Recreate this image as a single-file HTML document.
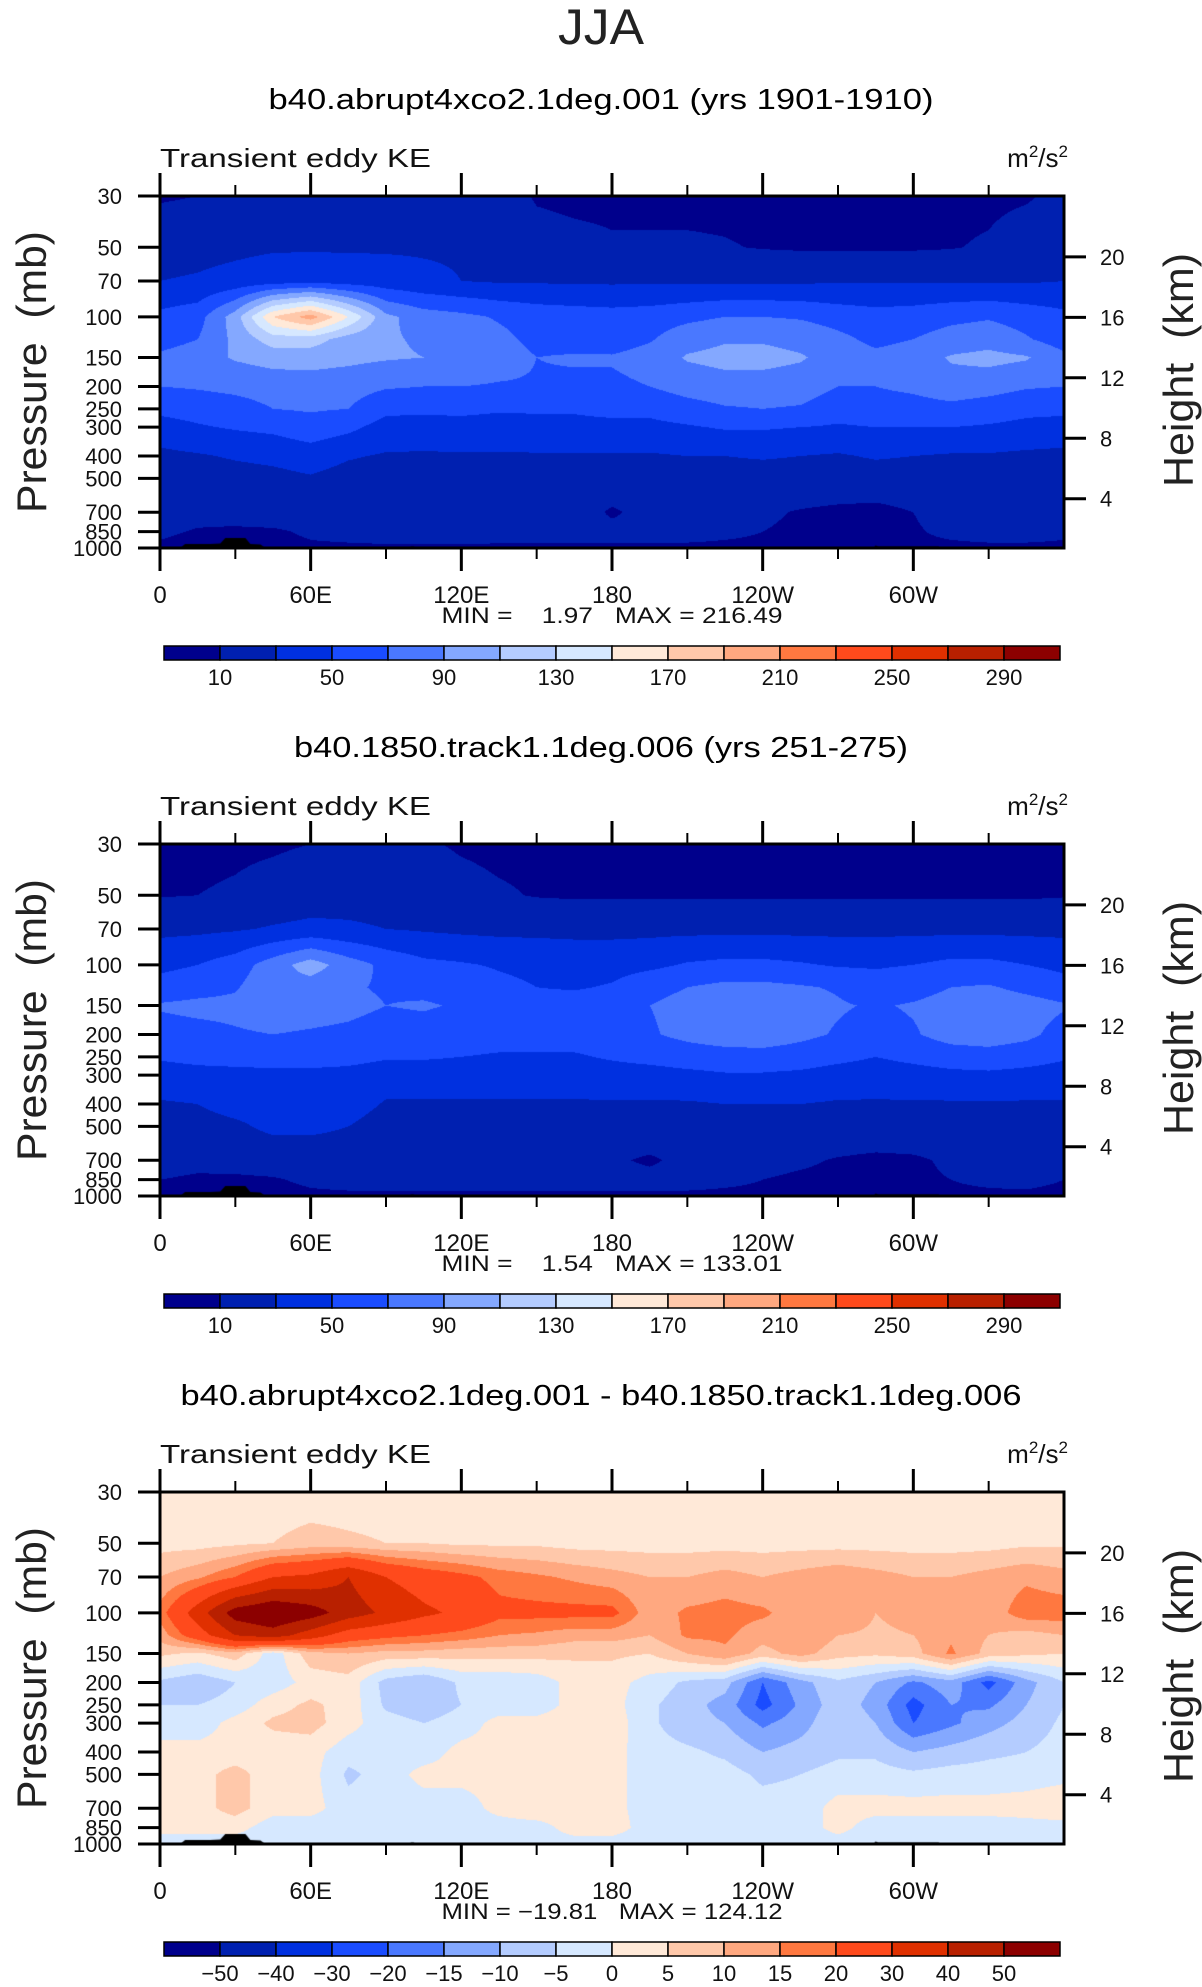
<!DOCTYPE html>
<html><head><meta charset="utf-8">
<style>
html,body{margin:0;padding:0;background:#fff;}
#root{position:relative;width:1202px;height:1987px;overflow:hidden;background:#fff;font-family:"Liberation Sans",sans-serif;}
canvas{position:absolute;}
svg{position:absolute;left:0;top:0;}
svg text{white-space:pre;}
</style></head>
<body>
<div id="root">
<canvas id="c0" width="904" height="352" style="left:160px;top:196px"></canvas>
<canvas id="c1" width="904" height="352" style="left:160px;top:844px"></canvas>
<canvas id="c2" width="904" height="352" style="left:160px;top:1492px"></canvas>
<svg id="s" width="1202" height="1987"></svg>
</div>
<script>
// ---------- data ----------
const lons = [0,15,30,45,60,75,90,105,120,135,150,165,180,195,210,225,240,255,270,285,300,315,330,345,360];
const levels = [30,50,70,100,125,150,200,250,300,400,500,700,850,1000];
const ctrA = [
[8,10,22,25,25,25,25,25,25,20,8,6,6,6,6,6,6,6,6,6,6,6,6,8,15],
[22,24,26,28,28,28,28,28,28,26,18,15,12,12,12,11,9,8,8,8,8,9,12,20,22],
[30,32,36,40,42,40,38,34,30,28,28,27,27,27,27,27,27,27,28,28,28,28,28,28,30],
[55,62,100,170,200,150,95,80,75,68,62,60,58,60,65,70,70,68,62,58,60,65,68,62,55],
[60,70,95,120,120,100,92,88,82,75,65,62,60,68,82,88,88,84,75,65,70,78,82,72,60],
[75,82,92,98,98,95,92,90,88,80,70,72,72,78,92,96,96,92,82,75,80,92,96,92,75],
[70,72,75,78,80,78,72,70,70,68,68,66,66,70,78,82,82,80,70,70,74,82,78,72,70],
[55,58,62,70,72,70,55,55,55,52,52,52,55,55,62,68,70,68,58,62,62,64,60,55,55],
[42,48,52,55,62,55,42,40,42,42,45,45,45,45,48,52,52,50,48,50,50,50,48,45,42],
[25,28,32,35,40,32,28,28,28,28,28,28,28,28,30,30,32,30,28,32,30,28,28,26,25],
[20,20,22,24,28,22,20,20,20,20,20,20,20,20,20,20,20,20,20,20,20,20,20,20,20],
[18,14,15,18,18,18,18,18,18,18,18,18,8,15,16,14,12,9,7,6,10,14,16,17,18],
[12,9,8,8,12,14,16,16,16,15,14,14,14,14,14,12,10,8,8,7,9,12,14,14,12],
[8,6,5,6,8,8,8,8,8,8,8,8,8,8,8,8,8,8,8,8,8,8,8,8,8]];
const ctrB = [
[6,6,7,8,10,12,14,12,8,6,6,6,6,6,6,6,6,6,6,6,6,6,6,6,6],
[9,10,12,16,20,22,22,20,16,12,9,8,8,8,8,8,8,8,8,8,8,8,8,8,9],
[25,26,28,32,35,33,30,28,26,25,25,25,25,25,25,25,25,25,25,25,25,25,25,25,25],
[45,50,60,80,100,80,65,55,52,48,45,42,42,45,52,55,55,52,48,48,50,55,55,50,45],
[58,62,68,85,80,72,68,65,62,55,50,48,52,65,70,75,75,72,68,58,62,70,72,65,58],
[72,75,75,80,78,75,70,72,68,62,58,60,62,70,75,85,82,78,72,68,72,78,80,78,72],
[62,64,68,70,68,66,62,62,60,58,58,58,60,68,75,80,82,75,68,62,68,78,80,75,62],
[52,55,56,58,58,56,52,52,50,48,48,48,52,56,60,62,62,60,55,50,55,60,62,58,52],
[42,44,45,45,45,44,40,40,40,40,40,40,42,42,45,48,48,46,42,40,42,45,46,44,42],
[28,30,38,40,40,40,28,28,28,28,28,28,28,28,28,30,30,30,28,28,28,28,28,28,28],
[20,22,26,35,35,30,20,20,20,20,20,20,20,20,20,20,20,20,20,20,20,20,20,20,20],
[16,14,15,16,16,18,18,18,18,18,18,18,12,8,14,15,14,12,9,7,8,12,15,16,16],
[10,8,8,9,12,14,15,15,15,15,14,14,14,14,14,12,10,8,7,7,8,10,12,13,10],
[7,6,5,6,8,8,8,8,8,8,8,8,8,8,8,8,8,8,8,8,8,8,8,8,7]];
const diffAB = [
[2,2,2,2,2,2,2,2,2,2,2,2,2,2,2,2,2,2,2,2,2,2,2,2,2],
[3,3,4,5,7,6,5,5,4,4,4,3,3,3,3,3,3,3,3,3,3,3,3,4,4],
[10,14,20,30,32,40,30,25,22,18,16,14,12,10,10,12,10,12,14,12,10,10,12,14,12],
[17,35,55,60,55,45,38,32,28,22,22,22,22,12,16,17,16,12,15,10,12,10,12,18,18],
[12,25,40,45,35,25,22,20,18,15,14,12,12,10,16,16,12,15,10,9,10,14,10,8,10],
[6,4,8,-3,8,10,8,8,7,7,7,6,6,5,10,14,8,12,7,6,8,16,8,6,5],
[-6,-9,-5,-3,2,3,-7,-10,-4,-4,-3,2,2,-2,-6,-8,-20,-12,-6,-10,-16,-12,-22,-12,-5],
[-5,-5,-3,3,6,3,-6,-8,-5,-3,-3,2,2,-4,-8,-12,-22,-14,-7,-12,-22,-15,-16,-10,-5],
[-3,-3,2,6,7,2,-3,-5,-3,2,2,3,3,-4,-8,-10,-16,-12,-6,-10,-20,-16,-12,-8,-4],
[2,2,2,2,2,-3,-3,-3,2,2,2,2,2,-3,-4,-6,-10,-8,-6,-6,-10,-8,-6,-5,-3],
[2,3,7,2,2,-6,-3,2,2,2,2,2,2,-3,-3,-3,-6,-5,-3,-3,-4,-3,-3,-3,-2],
[2,3,7,2,2,-3,-3,-3,-3,2,5,3,2,-3,-3,-3,-3,-3,2,2,2,2,2,3,5],
[2,2,2,-3,-3,-3,-3,-3,-3,-3,-3,3,3,-3,-3,-3,-3,-3,2,-3,-3,-3,-3,-3,-3],
[-3,-3,-3,-3,-3,-3,-3,-3,-3,-3,-3,-3,-3,-3,-3,-3,-3,-3,-3,-3,-3,-3,-3,-3,-3]];
const levelsKE = [10,30,50,70,90,110,130,150,170,190,210,230,250,270,290];
const levelsDiff = [-50,-40,-30,-20,-15,-10,-5,0,5,10,15,20,30,40,50];
const labelsKE = ["10","","50","","90","","130","","170","","210","","250","","290"];
const labelsDiff = ["\u221250","\u221240","\u221230","\u221220","\u221215","\u221210","\u22125","0","5","10","15","20","30","40","50"];
const colors = ["#00008c","#0020b0","#0030e0","#1a4cff","#4a78ff","#84a8ff","#b4ccff","#d6e8ff","#ffe9d8","#ffc8aa","#ffa880","#ff7840","#ff4a1c","#e03000","#b82000","#8c0000"];
const topoLon = [8,10,20,24,26,34,36,40,42,99,100,101,102,284,285,286,300,310,311];
const topoP = [1000,962,962,955,905,905,960,965,1000,1000,985,985,1000,1000,975,985,985,985,1000];
const titles = ["b40.abrupt4xco2.1deg.001 (yrs 1901-1910)","b40.1850.track1.1deg.006 (yrs 251-275)","b40.abrupt4xco2.1deg.001 - b40.1850.track1.1deg.006"];
const titleLen = [665,614,841];
const minmax = ["MIN =    1.97   MAX = 216.49","MIN =    1.54   MAX = 133.01","MIN = \u221219.81   MAX = 124.12"];
const pTicks = [30,50,70,100,150,200,250,300,400,500,700,850,1000];
const kmTicks = [4,8,12,16,20];
const lonMajor = [0,60,120,180,240,300];
const lonLabels = ["0","60E","120E","180","120W","60W"];

// ---------- geometry ----------
const PL=160, PW=904, PH=352, TOP0=196, DY=648;
const logTop=Math.log10(30), logSpan=Math.log10(1000)-Math.log10(30);
function yOfP(p){ return (Math.log10(p)-logTop)/logSpan*PH; }
function xOfLon(l){ return l/360*PW; }
function pOfKm(z){ return 55*Math.exp((20-z)/6.64); }

function sample(grid,lon,lp){
  let i=Math.min(Math.floor(lon/15),23); let fx=(lon-lons[i])/15;
  let j=0; while(j<levels.length-2 && lp>Math.log10(levels[j+1])) j++;
  const a=Math.log10(levels[j]), b=Math.log10(levels[j+1]);
  let fy=(lp-a)/(b-a); fy=Math.max(0,Math.min(1,fy));
  const v00=grid[j][i],v01=grid[j][i+1],v10=grid[j+1][i],v11=grid[j+1][i+1];
  return (v00*(1-fx)+v01*fx)*(1-fy)+(v10*(1-fx)+v11*fx)*fy;
}
function hexRGB(h){return [parseInt(h.substr(1,2),16),parseInt(h.substr(3,2),16),parseInt(h.substr(5,2),16)];}
const rgb=colors.map(hexRGB);
function binOf(v,lv){ let k=0; while(k<lv.length && v>=lv[k]) k++; return k; }

function drawField(id,grid,lv){
  const c=document.getElementById(id), ctx=c.getContext('2d');
  const img=ctx.createImageData(PW,PH);
  for(let y=0;y<PH;y++){
    const lp=logTop+(y+0.5)/PH*logSpan;
    for(let x=0;x<PW;x++){
      const v=sample(grid,(x+0.5)/PW*360,lp);
      const col=rgb[binOf(v,lv)];
      const o=(y*PW+x)*4; img.data[o]=col[0];img.data[o+1]=col[1];img.data[o+2]=col[2];img.data[o+3]=255;
    }
  }
  ctx.putImageData(img,0,0);
  ctx.fillStyle="#000"; ctx.beginPath();
  ctx.moveTo(xOfLon(topoLon[0]),PH);
  for(let k=0;k<topoLon.length;k++) ctx.lineTo(xOfLon(topoLon[k]),yOfP(topoP[k]));
  ctx.lineTo(xOfLon(topoLon[topoLon.length-1]),PH); ctx.closePath(); ctx.fill();
}
drawField('c0',ctrA,levelsKE);
drawField('c1',ctrB,levelsKE);
drawField('c2',diffAB,levelsDiff);

// ---------- svg ----------
const NS="http://www.w3.org/2000/svg", svg=document.getElementById('s');
function el(tag,attrs,parent){const e=document.createElementNS(NS,tag);for(const k in attrs)e.setAttribute(k,attrs[k]);(parent||svg).appendChild(e);return e;}
function txt(s,attrs,parent){const e=el('text',Object.assign({'font-family':'"Liberation Sans",sans-serif',fill:'#111'},attrs),parent);e.textContent=s;return e;}

let t=txt("JJA",{x:601,y:44,'font-size':50,'text-anchor':'middle',textLength:86,lengthAdjust:'spacingAndGlyphs',fill:'#222'});



for(let k=0;k<3;k++){
  const T=TOP0+k*DY, B=T+PH, R=PL+PW, off=k*DY;
  const g=el('g',{});
  
  
  t=txt(titles[k],{x:601,y:109+off,'font-size':29,'text-anchor':'middle',textLength:titleLen[k],lengthAdjust:'spacingAndGlyphs',fill:'#000'},g);
  
  
  t=txt("Transient eddy KE",{x:160,y:167+off,'font-size':26,textLength:271,lengthAdjust:'spacingAndGlyphs'},g);
  
  
  const u=el('text',{x:1068,y:167+off,'font-size':26,'text-anchor':'end','font-family':'"Liberation Sans",sans-serif',fill:'#111'},g);
  u.innerHTML='m<tspan dy="-10" font-size="17">2</tspan><tspan dy="10">/s</tspan><tspan dy="-10" font-size="17">2</tspan>';
  
  
  const fr=el('rect',{x:PL,y:T,width:PW,height:PH,fill:'none',stroke:'#000','stroke-width':3},g);
  
  
  for(let l=0;l<=330;l+=30){
    const x=PL+xOfLon(l), major=(l%60===0), len=major?23:11;
    el('line',{x1:x,y1:T,x2:x,y2:T-len,stroke:'#000','stroke-width':major?3:2},g);
    el('line',{x1:x,y1:B,x2:x,y2:B+len,stroke:'#000','stroke-width':major?3:2},g);
  }
  for(let i=0;i<lonMajor.length;i++){
    t=txt(lonLabels[i],{x:PL+xOfLon(lonMajor[i]),y:603+off,'font-size':24,'text-anchor':'middle'},g);
    
    
  }
  t=txt(minmax[k],{x:612,y:623+off,'font-size':22,'text-anchor':'middle',textLength:341,lengthAdjust:'spacingAndGlyphs'},g);
  
  
  for(const p of pTicks){
    const y=T+yOfP(p);
    el('line',{x1:PL,y1:y,x2:PL-22,y2:y,stroke:'#000','stroke-width':3},g);
    t=txt(String(p),{x:122,y:y+8,'font-size':22,'text-anchor':'end'},g);
    
    
  }
  for(const z of kmTicks){
    const y=T+yOfP(pOfKm(z));
    el('line',{x1:R,y1:y,x2:R+22,y2:y,stroke:'#000','stroke-width':3},g);
    t=txt(String(z),{x:1100,y:y+8,'font-size':22},g);
    
    
  }
  t=txt("Pressure  (mb)",{x:0,y:0,'font-size':42,'text-anchor':'middle',textLength:282,lengthAdjust:'spacingAndGlyphs',fill:'#222',transform:`translate(46,${372+off}) rotate(-90)`},g);
  
  
  t=txt("Height  (km)",{x:0,y:0,'font-size':42,'text-anchor':'middle',textLength:234,lengthAdjust:'spacingAndGlyphs',fill:'#222',transform:`translate(1193,${370+off}) rotate(-90)`},g);
  
  
  const cb=el('g',{},g);
  
  
  const cx0=164, cw=56, cy=646+off, ch=14;
  for(let i=0;i<colors.length;i++){
    const r=el('rect',{x:cx0+i*cw,y:cy,width:cw,height:ch,fill:colors[i],stroke:'#000','stroke-width':1.5},cb);
    
    
  }
  const labs = k<2?labelsKE:labelsDiff;
  for(let i=0;i<labs.length;i++){
    if(!labs[i]) continue;
    t=txt(labs[i],{x:cx0+(i+1)*cw,y:685+off,'font-size':22,'text-anchor':'middle'},cb);
    
    
  }
}
</script>
</body></html>
